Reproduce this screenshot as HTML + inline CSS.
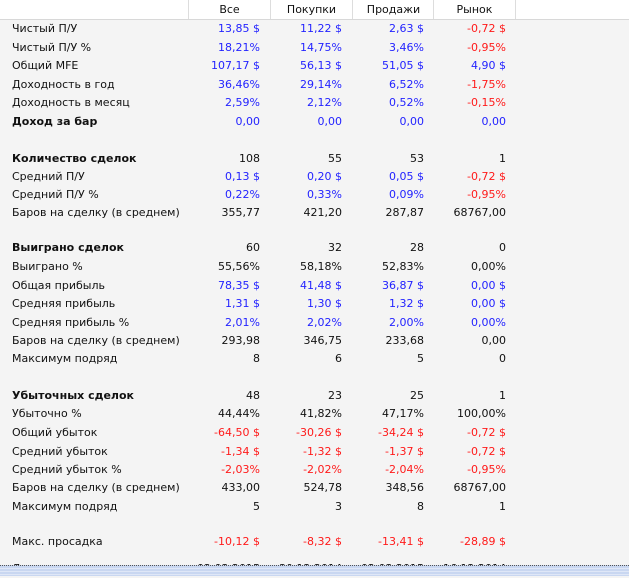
<!DOCTYPE html>
<html><head><meta charset="utf-8"><style>
body{margin:0;width:629px;height:575px;overflow:hidden;background:#f4f4f4;font-family:"DejaVu Sans","Liberation Sans",sans-serif;font-size:11px;color:#111;position:relative}
.hdr{position:absolute;left:0;top:0;width:629px;height:19px;background:#fff;border-bottom:1px solid #d8d8d8}
.hc{position:absolute;top:0;height:19px;line-height:19px;text-align:center;border-left:1px solid #ddd;width:81px}
.r{position:absolute;left:0;width:629px;height:18px;line-height:18px;margin-top:1px}
.l{position:absolute;left:12px}
.v{position:absolute;text-align:right;width:80px}
.c1{left:180px}.c2{left:262px}.c3{left:344px}.c4{left:426px}
.b{color:#2323ff}.rd{color:#ff1a1a}.bo{font-weight:bold}
.bot{position:absolute;left:0;top:565px;width:629px;height:10px;border-top:1px dotted #555;background:repeating-linear-gradient(#c9d7f1 0,#c9d7f1 2px,#dfe7f7 2px,#dfe7f7 3px)}
</style></head><body>
<div class="hdr">
<div class="hc" style="left:188px">Все</div>
<div class="hc" style="left:270px">Покупки</div>
<div class="hc" style="left:352px">Продажи</div>
<div class="hc" style="left:433px">Рынок</div>
<div class="hc" style="left:515px;width:113px;border-right:1px solid #ddd"></div>
</div>

<div class="r" style="top:19px"><span class="l">Чистый П/У</span><span class="v c1 b">13,85 $</span><span class="v c2 b">11,22 $</span><span class="v c3 b">2,63 $</span><span class="v c4 rd">-0,72 $</span></div>
<div class="r" style="top:38px"><span class="l">Чистый П/У %</span><span class="v c1 b">18,21%</span><span class="v c2 b">14,75%</span><span class="v c3 b">3,46%</span><span class="v c4 rd">-0,95%</span></div>
<div class="r" style="top:56px"><span class="l">Общий MFE</span><span class="v c1 b">107,17 $</span><span class="v c2 b">56,13 $</span><span class="v c3 b">51,05 $</span><span class="v c4 b">4,90 $</span></div>
<div class="r" style="top:75px"><span class="l">Доходность в год</span><span class="v c1 b">36,46%</span><span class="v c2 b">29,14%</span><span class="v c3 b">6,52%</span><span class="v c4 rd">-1,75%</span></div>
<div class="r" style="top:93px"><span class="l">Доходность в месяц</span><span class="v c1 b">2,59%</span><span class="v c2 b">2,12%</span><span class="v c3 b">0,52%</span><span class="v c4 rd">-0,15%</span></div>
<div class="r" style="top:112px"><span class="l bo">Доход за бар</span><span class="v c1 b">0,00</span><span class="v c2 b">0,00</span><span class="v c3 b">0,00</span><span class="v c4 b">0,00</span></div>

<div class="r" style="top:149px"><span class="l bo">Количество сделок</span><span class="v c1">108</span><span class="v c2">55</span><span class="v c3">53</span><span class="v c4">1</span></div>
<div class="r" style="top:167px"><span class="l">Средний П/У</span><span class="v c1 b">0,13 $</span><span class="v c2 b">0,20 $</span><span class="v c3 b">0,05 $</span><span class="v c4 rd">-0,72 $</span></div>
<div class="r" style="top:185px"><span class="l">Средний П/У %</span><span class="v c1 b">0,22%</span><span class="v c2 b">0,33%</span><span class="v c3 b">0,09%</span><span class="v c4 rd">-0,95%</span></div>
<div class="r" style="top:203px"><span class="l">Баров на сделку (в среднем)</span><span class="v c1">355,77</span><span class="v c2">421,20</span><span class="v c3">287,87</span><span class="v c4">68767,00</span></div>

<div class="r" style="top:238px"><span class="l bo">Выиграно сделок</span><span class="v c1">60</span><span class="v c2">32</span><span class="v c3">28</span><span class="v c4">0</span></div>
<div class="r" style="top:257px"><span class="l">Выиграно %</span><span class="v c1">55,56%</span><span class="v c2">58,18%</span><span class="v c3">52,83%</span><span class="v c4">0,00%</span></div>
<div class="r" style="top:276px"><span class="l">Общая прибыль</span><span class="v c1 b">78,35 $</span><span class="v c2 b">41,48 $</span><span class="v c3 b">36,87 $</span><span class="v c4 b">0,00 $</span></div>
<div class="r" style="top:294px"><span class="l">Средняя прибыль</span><span class="v c1 b">1,31 $</span><span class="v c2 b">1,30 $</span><span class="v c3 b">1,32 $</span><span class="v c4 b">0,00 $</span></div>
<div class="r" style="top:313px"><span class="l">Средняя прибыль %</span><span class="v c1 b">2,01%</span><span class="v c2 b">2,02%</span><span class="v c3 b">2,00%</span><span class="v c4 b">0,00%</span></div>
<div class="r" style="top:331px"><span class="l">Баров на сделку (в среднем)</span><span class="v c1">293,98</span><span class="v c2">346,75</span><span class="v c3">233,68</span><span class="v c4">0,00</span></div>
<div class="r" style="top:349px"><span class="l">Максимум подряд</span><span class="v c1">8</span><span class="v c2">6</span><span class="v c3">5</span><span class="v c4">0</span></div>

<div class="r" style="top:386px"><span class="l bo">Убыточных сделок</span><span class="v c1">48</span><span class="v c2">23</span><span class="v c3">25</span><span class="v c4">1</span></div>
<div class="r" style="top:404px"><span class="l">Убыточно %</span><span class="v c1">44,44%</span><span class="v c2">41,82%</span><span class="v c3">47,17%</span><span class="v c4">100,00%</span></div>
<div class="r" style="top:423px"><span class="l">Общий убыток</span><span class="v c1 rd">-64,50 $</span><span class="v c2 rd">-30,26 $</span><span class="v c3 rd">-34,24 $</span><span class="v c4 rd">-0,72 $</span></div>
<div class="r" style="top:442px"><span class="l">Средний убыток</span><span class="v c1 rd">-1,34 $</span><span class="v c2 rd">-1,32 $</span><span class="v c3 rd">-1,37 $</span><span class="v c4 rd">-0,72 $</span></div>
<div class="r" style="top:460px"><span class="l">Средний убыток %</span><span class="v c1 rd">-2,03%</span><span class="v c2 rd">-2,02%</span><span class="v c3 rd">-2,04%</span><span class="v c4 rd">-0,95%</span></div>
<div class="r" style="top:478px"><span class="l">Баров на сделку (в среднем)</span><span class="v c1">433,00</span><span class="v c2">524,78</span><span class="v c3">348,56</span><span class="v c4">68767,00</span></div>
<div class="r" style="top:497px"><span class="l">Максимум подряд</span><span class="v c1">5</span><span class="v c2">3</span><span class="v c3">8</span><span class="v c4">1</span></div>

<div class="r" style="top:532px"><span class="l">Макс. просадка</span><span class="v c1 rd">-10,12 $</span><span class="v c2 rd">-8,32 $</span><span class="v c3 rd">-13,41 $</span><span class="v c4 rd">-28,89 $</span></div>
<div class="r" style="top:559px"><span class="l">Дата макс. просадки</span><span class="v c1">02.03.2015</span><span class="v c2">30.12.2014</span><span class="v c3">02.03.2015</span><span class="v c4">16.12.2014</span></div>
<div class="bot"></div>
</body></html>
